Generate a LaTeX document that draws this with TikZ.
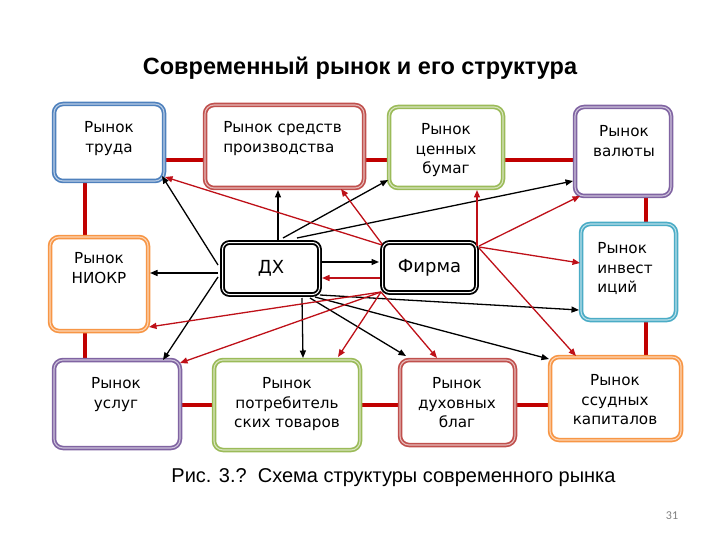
\documentclass[tikz,border=0pt]{standalone}
\usepackage{fontspec}
\setmainfont{DejaVu Sans}
\newfontfamily\arialf{Liberation Sans}
\newfontfamily\calf{Carlito}
\usetikzlibrary{arrows.meta,calc,backgrounds}
\definecolor{cblue}{HTML}{4F81BD}
\definecolor{cred}{HTML}{C0504D}
\definecolor{cgreen}{HTML}{9BBB59}
\definecolor{cpurple}{HTML}{8064A2}
\definecolor{caqua}{HTML}{4BACC6}
\definecolor{corange}{HTML}{F79646}
\definecolor{lnk}{HTML}{C00000}
\definecolor{arr}{HTML}{BE1018}
\tikzset{
  mkt/.style={draw=#1, double=#1!40!white, double distance=1.1pt, line width=1.7pt,
    rounded corners=9pt, fill=white, inner sep=0pt},
  hub/.style={draw=black, double=white, double distance=1pt, line width=1.9pt,
    rounded corners=7pt, fill=white, inner sep=0pt, font=\fontsize{18}{20}\selectfont},
  lbl/.style={font=\fontsize{15.2}{19.5}\selectfont, align=center, anchor=north, inner sep=0pt},
  lbll/.style={lbl, align=left},
  tipa/.style={-{Triangle[length=7.5pt,width=6pt]}},
  barr/.style={tipa, black, line width=1.3pt},
  rarr/.style={tipa, arr, line width=1.3pt},
  link/.style={lnk, line width=4pt}
}
\begin{document}
\begin{tikzpicture}[x=1pt,y=-1pt]
\useasboundingbox (0,0) rectangle (720,540);
% title
\node[font=\arialf\bfseries\fontsize{23.5}{27}\selectfont] (title) at (360,68) {Современный рынок и его структура};
% boxes
\node[mkt=cblue, minimum width=110, minimum height=77] (trud) at (109,142.5) {};
\node[mkt=cred, minimum width=159, minimum height=83] (sredstv) at (284.5,146.5) {};
\node[mkt=cgreen, minimum width=114, minimum height=81] (cennyh) at (446,147.5) {};
\node[mkt=cpurple, minimum width=96, minimum height=89] (valuty) at (623,151.5) {};
\node[mkt=corange, minimum width=98, minimum height=94] (niokr) at (99,284) {};
\node[mkt=caqua, minimum width=95, minimum height=96] (invest) at (628.5,272) {};
\node[mkt=cpurple, minimum width=126, minimum height=88] (uslug) at (117,404) {};
\node[mkt=cgreen, minimum width=146, minimum height=90] (potreb) at (287,405) {};
\node[mkt=cred, minimum width=115, minimum height=85] (duh) at (457.5,402.5) {};
\node[mkt=corange, minimum width=131, minimum height=83] (ssud) at (615.5,398.5) {};
\node[hub, minimum width=97, minimum height=52] (dx) at (271,268.5) {ДХ};
\node[hub, minimum width=94, minimum height=50] (firma) at (429.5,267.5) {Фирма};
% labels
\node[lbl] (trudt) at (109,121.5) {Рынок\\труда};
\node[lbll] (sredstvt) at (282.5,121.5) {Рынок средств\\производства};
\node[lbl] (cennyht) at (446,123.5) {Рынок\\ценных\\бумаг};
\node[lbl] (valutyt) at (624,125.5) {Рынок\\валюты};
\node[lbl] (niokrt) at (99,252.5) {Рынок\\НИОКР};
\node[lbll] (investt) at (625,242.5) {Рынок\\инвест\\иций};
\node[lbl] (uslugt) at (116,377.5) {Рынок\\услуг};
\node[lbl] (potrebt) at (287,377.5) {Рынок\\потребитель\\ских товаров};
\node[lbl] (duht) at (457,377.5) {Рынок\\духовных\\благ};
\node[lbl] (ssudt) at (615,374.5) {Рынок\\ссудных\\капиталов};
% link lines
\coordinate (ytop) at (0,160);
\coordinate (ybot) at (0,405);
\coordinate (xl) at (85,0);
\coordinate (xr) at (646,0);
\begin{scope}[on background layer]
\draw[link] (trud.east |- ytop) -- (sredstv.west |- ytop);
\draw[link] (sredstv.east |- ytop) -- (cennyh.west |- ytop);
\draw[link] (cennyh.east |- ytop) -- (valuty.west |- ytop);
\draw[link] (xl |- trud.south) -- (xl |- niokr.north);
\draw[link] (xl |- niokr.south) -- (xl |- uslug.north);
\draw[link] (xr |- valuty.south) -- (xr |- invest.north);
\draw[link] (xr |- invest.south) -- (xr |- ssud.north);
\draw[link] (uslug.east |- ybot) -- (potreb.west |- ybot);
\draw[link] (potreb.east |- ybot) -- (duh.west |- ybot);
\draw[link] (duh.east |- ybot) -- (ssud.west |- ybot);
\end{scope}
% black arrows from DX
\draw[barr] ($(dx.center)+(-53,-3.5)$) -- ($(trud.center)+(53,33.5)$);
\draw[barr] ($(dx.center)+(7,-28.5)$) -- ($(sredstv.center)+(-6.5,43.5)$);
\draw[barr] ($(dx.center)+(-53,4.5)$) -- ($(niokr.center)+(51,-11)$);
\draw[barr] ($(dx.center)+(12,-30.5)$) -- ($(cennyh.center)+(-58,32.5)$);
\draw[barr] ($(dx.center)+(26,-30.5)$) -- ($(valuty.center)+(-50,29.5)$);
\draw[barr] ($(dx.center)+(51,-6.5)$) -- ($(firma.center)+(-50.5,-5.5)$);
\draw[barr] ($(dx.center)+(-53,8.5)$) -- ($(uslug.center)+(46,-44)$);
\draw[barr] ($(dx.center)+(31,29.5)$) -- ($(potreb.center)+(16,-47)$);
\draw[barr] ($(dx.center)+(39,29.5)$) -- ($(duh.center)+(-51.5,-46.5)$);
\draw[barr] ($(dx.center)+(44,28.5)$) -- ($(ssud.center)+(-66.5,-39.5)$);
\draw[barr] ($(dx.center)+(49,26.5)$) -- ($(invest.center)+(-49.5,38)$);
% red arrows from Firma
\draw[rarr] ($(firma.center)+(-47.5,-22.5)$) -- ($(trud.center)+(56,34.5)$);
\draw[rarr] ($(firma.center)+(-47.5,-23.5)$) -- ($(sredstv.center)+(56.5,42.5)$);
\draw[rarr] ($(firma.center)+(-49.5,10.5)$) -- ($(dx.center)+(51,9.5)$);
\draw[rarr] ($(firma.center)+(47.5,-21.5)$) -- ($(cennyh.center)+(31,42.5)$);
\draw[rarr] ($(firma.center)+(49.5,-21.5)$) -- ($(valuty.center)+(-43,44.5)$);
\draw[rarr] ($(firma.center)+(49.5,-20.5)$) -- ($(invest.center)+(-48.5,-9)$);
\draw[rarr] ($(firma.center)+(49.5,-19.5)$) -- ($(ssud.center)+(-39.5,-42.5)$);
\draw[rarr] ($(firma.center)+(-48.5,24.5)$) -- ($(niokr.center)+(50,43)$);
\draw[rarr] ($(firma.center)+(-48.5,24.5)$) -- ($(uslug.center)+(63,-41)$);
\draw[rarr] ($(firma.center)+(-48.5,24.5)$) -- ($(potreb.center)+(51,-48)$);
\draw[rarr] ($(firma.center)+(-48.5,24.5)$) -- ($(duh.center)+(-20.5,-44.5)$);
% caption and page number
\node[font=\arialf\fontsize{20}{24}\selectfont] (caption) at (393.5,478) {Рис. 3.?\ \ Схема структуры современного рынка};
\node[font=\calf\fontsize{12}{14}\selectfont, text=black!50] (page) at (672,516) {31};
\end{tikzpicture}
\end{document}
